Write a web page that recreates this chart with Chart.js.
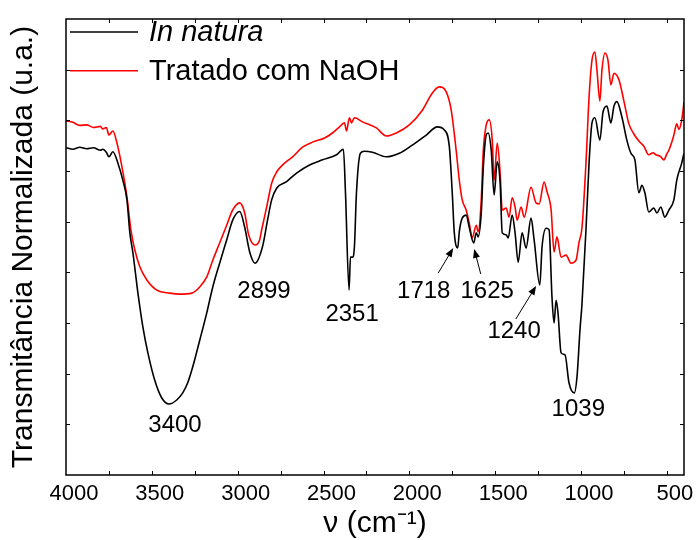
<!DOCTYPE html>
<html>
<head>
<meta charset="utf-8">
<script src="https://cdn.jsdelivr.net/npm/chart.js@4"></script>
<style>
  html, body { margin:0; padding:0; background:#fff; }
  #wrap { width:696px; height:540px; }
</style>
</head>
<body>
<div id="wrap"><canvas id="ftirChart" width="696" height="540"></canvas></div>
<script>
/* ===== FTIR — in natura vs tratado com NaOH ===== */

// wavenumber (cm-1) / normalised transmittance
const naturaWn = [
  4000, 3960, 3920, 3880, 3840, 3800, 3785, 3765, 3750, 3727,
  3698, 3669, 3645, 3628, 3610, 3581, 3552, 3523, 3483, 3442,
  3400, 3355, 3320, 3291, 3262, 3221, 3180, 3145, 3105, 3064,
  3029, 2988, 2959, 2930, 2899, 2855, 2826, 2802, 2773, 2715,
  2657, 2581, 2506, 2424, 2384, 2372, 2351, 2343, 2331, 2320,
  2308, 2285, 2262, 2215, 2134, 2058, 1983, 1901, 1837, 1796,
  1767, 1750, 1738, 1718, 1709, 1692, 1669, 1651, 1625, 1610,
  1599, 1581, 1569, 1552, 1541, 1523, 1506, 1488, 1471, 1459,
  1436, 1424, 1401, 1384, 1366, 1343, 1320, 1291, 1273, 1240,
  1227, 1203, 1186, 1169, 1157, 1145, 1134, 1116, 1093, 1070,
  1039, 1023, 1006, 994, 971, 953, 936, 919, 890, 872,
  849, 826, 808, 791, 762, 733, 709, 686, 663, 645,
  628, 605, 576, 558, 535, 512, 488, 459, 442, 413,
  400
];
const naturaT = [
  64.6, 64.3, 64.7, 64.4, 64.6, 64.1, 64.3, 63.7, 62.8, 63.8,
  61.6, 58.2, 54.3, 47.8, 43.8, 35.9, 29.2, 24.1, 18.7, 15.2,
  14.0, 14.8, 16.2, 18.2, 21.3, 26.6, 32.0, 37.1, 41.8, 46.4,
  50.3, 52.0, 48.9, 44.0, 41.8, 45.1, 50.3, 54.3, 56.6, 57.9,
  59.6, 61.2, 62.2, 63.2, 64.3, 55.7, 36.5, 43.0, 43.0, 45.0,
  55.7, 63.5, 63.9, 63.7, 62.8, 63.5, 65.1, 67.1, 68.7, 68.1,
  64.8, 55.7, 47.8, 44.8, 48.0, 50.7, 51.3, 48.9, 45.8, 47.8,
  47.0, 51.7, 60.8, 67.1, 67.5, 64.1, 55.3, 61.8, 57.6, 47.8,
  47.4, 46.8, 51.3, 47.8, 42.0, 47.8, 44.8, 50.7, 46.4, 37.5,
  45.0, 48.7, 48.4, 35.1, 30.0, 34.5, 32.0, 24.1, 23.7, 18.2,
  16.2, 19.5, 28.6, 33.9, 48.4, 61.6, 69.5, 70.5, 66.1, 71.6,
  72.8, 69.5, 72.8, 73.7, 70.7, 66.1, 63.5, 62.2, 55.7, 57.2,
  55.7, 51.9, 52.7, 51.7, 52.9, 50.9, 52.3, 54.3, 58.2, 61.6,
  63.5
];
const naohWn = [
  4000, 3960, 3920, 3880, 3840, 3800, 3785, 3765, 3750, 3727,
  3703, 3674, 3645, 3622, 3599, 3570, 3529, 3471, 3395, 3337,
  3267, 3221, 3180, 3145, 3105, 3064, 3029, 2988, 2959, 2936,
  2899, 2872, 2860, 2831, 2802, 2773, 2738, 2680, 2622, 2564,
  2494, 2448, 2407, 2378, 2366, 2349, 2337, 2320, 2273, 2192,
  2134, 2076, 2000, 1924, 1866, 1826, 1785, 1756, 1727, 1709,
  1692, 1669, 1651, 1634, 1610, 1599, 1581, 1569, 1552, 1535,
  1517, 1506, 1488, 1471, 1459, 1436, 1419, 1401, 1384, 1372,
  1349, 1331, 1291, 1262, 1244, 1215, 1198, 1174, 1157, 1140,
  1116, 1087, 1058, 1029, 1012, 994, 971, 953, 936, 919,
  907, 890, 878, 860, 843, 826, 808, 779, 750, 721,
  692, 663, 634, 605, 580, 564, 545, 535, 517, 500,
  488, 470, 459, 442, 430, 419, 410, 400
];
const naohT = [
  69.9, 69.6, 69.0, 69.1, 68.6, 68.8, 68.3, 68.6, 67.1, 67.9,
  65.5, 60.8, 54.9, 48.4, 44.4, 41.1, 38.5, 36.5, 35.9, 35.7,
  35.9, 37.1, 39.1, 42.4, 45.8, 49.3, 52.3, 53.7, 51.7, 47.4,
  45.4, 46.4, 48.4, 52.9, 57.6, 59.8, 61.2, 62.8, 64.7, 65.7,
  66.5, 67.5, 68.7, 69.5, 67.9, 70.5, 69.5, 70.5, 69.7, 68.5,
  66.9, 67.5, 69.1, 72.0, 75.4, 76.6, 75.6, 72.0, 64.0, 58.2,
  54.3, 52.3, 49.7, 46.8, 49.3, 48.0, 54.3, 64.1, 69.1, 70.1,
  66.1, 58.2, 65.5, 59.6, 52.3, 52.7, 50.9, 54.7, 52.9, 50.3,
  52.9, 50.9, 56.8, 53.7, 53.5, 57.8, 55.9, 52.3, 44.0, 47.0,
  43.0, 43.4, 41.8, 42.4, 45.8, 48.9, 61.6, 74.6, 81.9, 83.5,
  79.9, 73.8, 79.9, 83.3, 81.9, 77.0, 79.3, 78.0, 73.8, 69.3,
  67.3, 65.9, 64.9, 63.2, 63.6, 63.2, 63.0, 62.8, 62.2, 63.4,
  64.1, 65.8, 67.1, 69.3, 68.2, 69.1, 70.8, 73.6
];
const seriesNames = ['In natura', 'Tratado com NaOH'];
const xTickLabels = [4000, 3500, 3000, 2500, 2000, 1500, 1000, 500];
const peakBands = [3400, 2899, 2351, 1718, 1625, 1240, 1039];

// label placement (px offsets from the band minimum on the in natura curve)
const peakLayout = {
  3400: { dx: 6, dy: 21 },
  2899: { dx: 9, dy: 28 },
  2351: { dx: 3, dy: 24 },
  1718: { dx: -34, dy: 43, arrow: [-19.5, 25, -4.5, 0] },
  1625: { dx: 13.5, dy: 48.5, arrow: [7, 31, 0.5, 6] },
  1240: { dx: -25.7, dy: 46, arrow: [-24, 34, -3.7, 1] },
  1039: { dx: 4, dy: 16.5 }
};

const FONT = '"Liberation Sans", Arial, sans-serif';
const toPoints = (xs, ys) => xs.map((x, i) => ({ x, y: ys[i] }));

// box + inward ticks on all four sides
const framePlugin = {
  id: 'frame',
  afterDatasetsDraw(chart) {
    const { ctx, chartArea: a, scales: { x, y } } = chart;
    ctx.save();
    ctx.strokeStyle = '#000';
    ctx.lineWidth = 1;
    ctx.beginPath();
    for (let w = 500; w < 4000; w += 250) {
      const px = Math.round(x.getPixelForValue(w)) + 0.5;
      ctx.moveTo(px, a.bottom); ctx.lineTo(px, a.bottom - 4);
      ctx.moveTo(px, a.top); ctx.lineTo(px, a.top + 4);
    }
    for (let v = 10; v < 90; v += 10) {
      const py = Math.round(y.getPixelForValue(v)) + 0.5;
      ctx.moveTo(a.left, py); ctx.lineTo(a.left + 4, py);
      ctx.moveTo(a.right, py); ctx.lineTo(a.right - 4, py);
    }
    ctx.stroke();
    ctx.lineWidth = 1.5;
    ctx.strokeRect(a.left, a.top, a.right - a.left, a.bottom - a.top);
    ctx.restore();
  }
};

// legend drawn inside the plot (first entry is italic)
const legendPlugin = {
  id: 'insideLegend',
  afterDatasetsDraw(chart) {
    const { ctx } = chart;
    ctx.save();
    chart.data.datasets.forEach((ds, i) => {
      const yy = 32 + i * 38.7;
      ctx.strokeStyle = ds.borderColor;
      ctx.lineWidth = 1.5;
      ctx.beginPath();
      ctx.moveTo(70, yy); ctx.lineTo(138, yy);
      ctx.stroke();
      ctx.fillStyle = '#000';
      ctx.font = (i === 0 ? 'italic ' : '') + '29px ' + FONT;
      ctx.textBaseline = 'middle';
      ctx.textAlign = 'left';
      ctx.fillText(ds.label, 149, yy + 1);
    });
    ctx.restore();
  }
};

// band labels + arrows
const peakPlugin = {
  id: 'peaks',
  afterDatasetsDraw(chart) {
    const { ctx, scales: { x, y } } = chart;
    ctx.save();
    ctx.fillStyle = '#000';
    ctx.strokeStyle = '#000';
    ctx.font = '24px ' + FONT;
    ctx.textAlign = 'center';
    ctx.textBaseline = 'middle';
    peakBands.forEach(b => {
      const lay = peakLayout[b];
      const idx = naturaWn.indexOf(b);
      const px = x.getPixelForValue(b);
      const py = y.getPixelForValue(naturaT[idx]);
      ctx.fillText(String(b), px + lay.dx, py + lay.dy);
      if (lay.arrow) {
        const [tx, ty, hx, hy] = lay.arrow;
        const x0 = px + tx, y0 = py + ty, x1 = px + hx, y1 = py + hy;
        const ang = Math.atan2(y1 - y0, x1 - x0);
        ctx.lineWidth = 1;
        ctx.beginPath();
        ctx.moveTo(x0, y0); ctx.lineTo(x1 - 6 * Math.cos(ang), y1 - 6 * Math.sin(ang));
        ctx.stroke();
        ctx.beginPath();
        ctx.moveTo(x1, y1);
        ctx.lineTo(x1 - 9 * Math.cos(ang) + 3.5 * Math.sin(ang), y1 - 9 * Math.sin(ang) - 3.5 * Math.cos(ang));
        ctx.lineTo(x1 - 9 * Math.cos(ang) - 3.5 * Math.sin(ang), y1 - 9 * Math.sin(ang) + 3.5 * Math.cos(ang));
        ctx.closePath();
        ctx.fill();
      }
    });
    ctx.restore();
  }
};

function render() {
  new Chart(document.getElementById('ftirChart'), {
    type: 'line',
    data: {
      datasets: [
        {
          label: seriesNames[0],
          data: toPoints(naturaWn, naturaT),
          borderColor: '#000000',
          borderWidth: 1.6,
          pointRadius: 0,
          cubicInterpolationMode: 'monotone',
          fill: false
        },
        {
          label: seriesNames[1],
          data: toPoints(naohWn, naohT),
          borderColor: '#ff0000',
          borderWidth: 1.6,
          pointRadius: 0,
          cubicInterpolationMode: 'monotone',
          fill: false
        }
      ]
    },
    options: {
      responsive: false,
      animation: false,
      devicePixelRatio: 1,
      layout: { padding: { top: 19, right: 12, left: 0, bottom: 0 } },
      plugins: { legend: { display: false }, tooltip: { enabled: false } },
      scales: {
        x: {
          type: 'linear',
          reverse: true,
          min: 400,
          max: 4000,
          afterBuildTicks: s => { s.ticks = xTickLabels.map(v => ({ value: v })); },
          afterFit: s => { s.height = 65; },
          grid: { display: false, drawTicks: false },
          border: { display: false },
          ticks: { color: '#000', font: { family: FONT, size: 22 }, labelOffset: 8, padding: 6, maxRotation: 0, autoSkip: false, callback: v => String(v) },
          title: { display: true, text: 'ν (cm⁻¹)', color: '#000', font: { family: FONT, size: 30 }, padding: { top: 0, bottom: -2 } }
        },
        y: {
          min: 0,
          max: 90,
          afterFit: s => { s.width = 66; },
          grid: { display: false, drawTicks: false },
          border: { display: false },
          ticks: { display: false },
          title: { display: true, text: 'Transmitância Normalizada (u.a.)', color: '#000', font: { family: FONT, size: 30 }, padding: { top: 6, bottom: 0 } }
        }
      }
    },
    plugins: [framePlugin, legendPlugin, peakPlugin]
  });
}

document.addEventListener('DOMContentLoaded', () => setTimeout(render, 10));
</script>
</body>
</html>
